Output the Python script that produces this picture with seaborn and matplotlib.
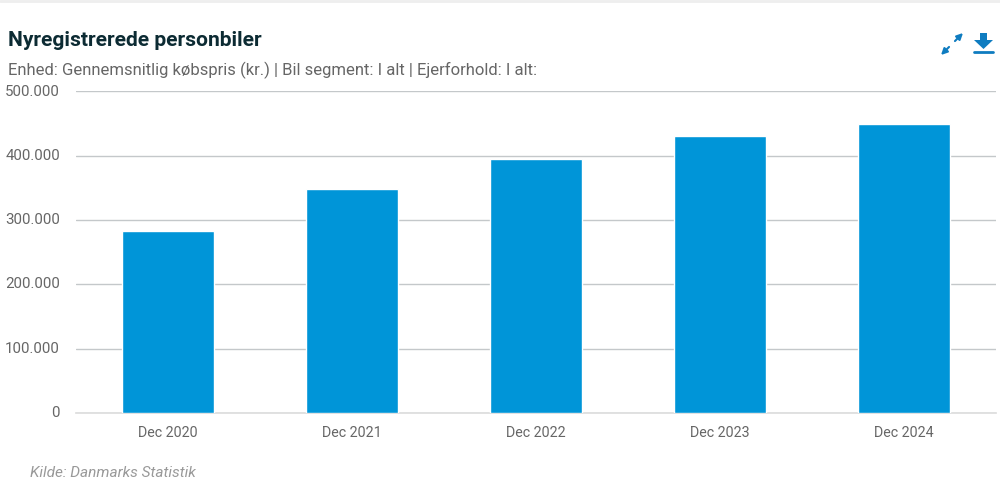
import matplotlib
matplotlib.use('Agg')
import matplotlib.pyplot as plt
import pandas as pd
import seaborn as sns
from matplotlib.lines import Line2D
from matplotlib.patches import FancyArrowPatch, Polygon

# Data
periods = ['Dec 2020', 'Dec 2021', 'Dec 2022', 'Dec 2023', 'Dec 2024']
prices = [282500, 348000, 395000, 431500, 450000]
y_ticks = [0, 100000, 200000, 300000, 400000, 500000]
y_tick_labels = ['0', '100.000', '200.000', '300.000', '400.000', '500.000']

TITLE = 'Nyregistrerede personbiler'
SUBTITLE = 'Enhed: Gennemsnitlig købspris (kr.) | Bil segment: I alt | Ejerforhold: I alt:'
SOURCE = 'Kilde: Danmarks Statistik'

W, H = 1000, 498

sns.set_theme(style='white')
plt.rcParams['font.family'] = ['Roboto', 'DejaVu Sans']


def px(x, y):
    """Pixel position in the picture to figure coordinates"""
    return x / W, 1 - y / H


df = pd.DataFrame({'period': periods, 'price': prices})

fig = plt.figure(figsize=(W / 100, H / 100), dpi=100)
ax = fig.add_axes([76 / W, 1 - 413 / H, 920 / W, 321.5 / H])

sns.barplot(data=df, x='period', y='price', color='#0095d8', saturation=1, width=0.503, ax=ax, zorder=3)

ax.set_xlim(-0.5, 4.5)
ax.set_ylim(0, 500000)
ax.set_xlabel('')
ax.set_ylabel('')
ax.set_yticks(y_ticks)
ax.set_yticklabels(y_tick_labels)
ax.tick_params(axis='x', length=0, pad=9, labelsize=10.3, labelcolor='#666666')
ax.tick_params(axis='y', length=0, pad=11.5, labelsize=10.8, labelcolor='#666666')
ax.grid(axis='y', color='#c4c8ca', linewidth=1, zorder=0)
sns.despine(ax=ax, left=True, right=True, top=True, bottom=False)
ax.spines['bottom'].set_color('#dddddd')

# Nudge the y labels down a little, they sit below their gridlines
for label in ax.get_yticklabels():
    label.set_y(label.get_position()[1])
    label.set_verticalalignment('center')

# Titles and source
x, y = px(8, 41)
fig.text(x, y, TITLE, fontsize=15.1, fontweight='bold', color='#0c2b33', va='center')
x, y = px(8, 70)
fig.text(x, y, SUBTITLE, fontsize=12, color='#666666', va='center')
x, y = px(30, 473)
fig.text(x, y, SOURCE, fontsize=11.1, style='italic', color='#999999', va='center')

# Strip along the top of the page
fig.add_artist(Line2D([0, 1], [1 - 1.5 / H] * 2, color='#eeeeee', linewidth=2))

# Expand icon
for start, end in [(px(952, 44), px(941, 55)), (px(952, 44), px(963, 33))]:
    fig.add_artist(FancyArrowPatch(start, end, transform=fig.transFigure, arrowstyle='-|>',
                                   mutation_scale=9, linewidth=1.5, color='#0f7cc0',
                                   shrinkA=3, shrinkB=0))

# Download icon
shape = [px(980, 33), px(987, 33), px(987, 40), px(993, 40), px(983.5, 49), px(974, 40), px(980, 40)]
fig.add_artist(Polygon(shape, closed=True, transform=fig.transFigure, color='#0f7cc0', linewidth=0))
fig.add_artist(Line2D([974 / W, 993 / W], [1 - 52.5 / H] * 2, color='#0f7cc0', linewidth=2))

fig.savefig('out.png', dpi=100)
plt.close()
